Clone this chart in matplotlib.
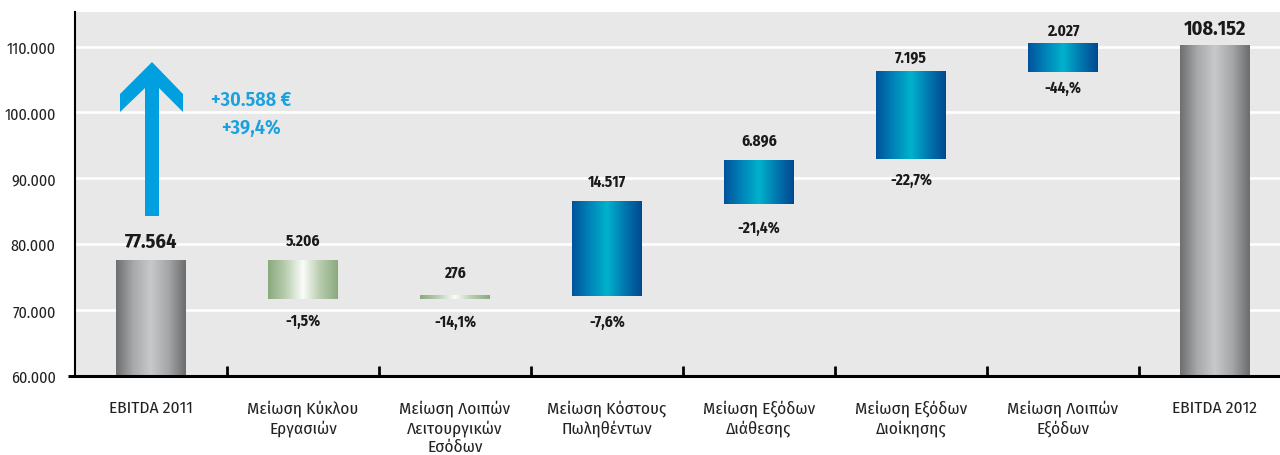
import numpy as np
import matplotlib
matplotlib.use("Agg")
import matplotlib.pyplot as plt
from matplotlib.colors import LinearSegmentedColormap
from matplotlib.patches import Polygon

# ---------------- data ----------------
categories = ['EBITDA 2011', 'Μείωση Κύκλου\nΕργασιών',
              'Μείωση Λοιπών\nΛειτουργικών\nΕσόδων', 'Μείωση Κόστους\nΠωληθέντων',
              'Μείωση Εξόδων\nΔιάθεσης', 'Μείωση Εξόδων\nΔιοίκησης',
              'Μείωση Λοιπών\nΕξόδων', 'EBITDA 2012']
bar_bottom = [60000, 71700, 71700, 72160, 86140, 92980, 106200, 60000]
bar_top = [77580, 77580, 72250, 86550, 92780, 106310, 110560, 110260]
bar_kind = ['total', 'neg', 'neg', 'pos', 'pos', 'pos', 'pos', 'total']
value_labels = ['77.564', '5.206', '276', '14.517', '6.896', '7.195', '2.027', '108.152']
pct_labels = [None, '-1,5%', '-14,1%', '-7,6%', '-21,4%', '-22,7%', '-44,%', None]
y_ticks = [60000, 70000, 80000, 90000, 100000, 110000]
y_ticklabels = ['60.000', '70.000', '80.000', '90.000', '100.000', '110.000']
total_change = '+30.588 €'
total_pct = '+39,4%'

# ---------------- layout / style ----------------
plt.rcParams['font.family'] = ['Fira Sans Condensed', 'DejaVu Sans']

above_off = [19, 20, 23, 20, 20, 14, 13, 17]   # px
below_off = [0, 22, 23, 26, 24, 21, 16, 0]     # px
bar_width = 0.454

cmaps = {
    'total': LinearSegmentedColormap.from_list('g', ['#6d6e70', '#a8a9ab', '#c8c9cb', '#a5a6a8', '#6b6c6e']),
    'neg': LinearSegmentedColormap.from_list('gr', ['#89aa7d', '#b9cdb1', '#fbfcf9', '#b7cbae', '#89aa7d']),
    'pos': LinearSegmentedColormap.from_list('b', ['#00529b', '#0083b8', '#00b2cc', '#0078b0', '#00488f']),
}

W, H = 1280, 456
fig = plt.figure(figsize=(W / 100, H / 100), dpi=100)
ax = fig.add_axes([75 / W, 1 - 376.7 / H, 1 - 75 / W, (376.7 - 13) / H])
ax.set_facecolor('#e8e8e8')

grad = np.linspace(0, 1, 256).reshape(1, -1)
for i, (b, t, k) in enumerate(zip(bar_bottom, bar_top, bar_kind)):
    ax.imshow(grad, cmap=cmaps[k], aspect='auto', interpolation='bilinear',
              extent=[i - bar_width / 2, i + bar_width / 2, b, t], zorder=3)
    big = k == 'total'
    ax.annotate(value_labels[i], (i, t), xytext=(0, above_off[i]), textcoords='offset pixels',
                ha='center', va='center', fontsize=14.5 if big else 11, fontweight='bold',
                color='#1a1a1a', zorder=5)
    if pct_labels[i]:
        ax.annotate(pct_labels[i], (i, b), xytext=(0, -below_off[i]), textcoords='offset pixels',
                    ha='center', va='center', fontsize=11, fontweight='bold',
                    color='#1a1a1a', zorder=5)

ax.set_xlim(-0.5, 7.428)
ax.set_ylim(60000, 115270)

ax.set_yticks(y_ticks)
ax.set_yticklabels(y_ticklabels)
ax.grid(axis='y', color='white', linewidth=1.9, zorder=1)
ax.set_axisbelow(True)
ax.tick_params(axis='y', length=0, pad=14, labelsize=11.5, labelcolor='#222222')

ax.set_xticks(range(len(categories)))
ax.set_xticklabels(categories, linespacing=1.22)
ax.tick_params(axis='x', which='major', length=0, pad=17, labelsize=12.5, labelcolor='#222222')
ax.set_xticks(np.arange(0.5, len(categories) - 1, 1.0), minor=True)
ax.tick_params(axis='x', which='minor', direction='in', length=7, width=2, color='black')

for s in ['top', 'right']:
    ax.spines[s].set_visible(False)
ax.spines['left'].set_linewidth(1.5)
ax.spines['bottom'].set_linewidth(2.2)
ax.spines['left'].set_zorder(6)
ax.spines['bottom'].set_zorder(6)
# small extension of baseline to the left
ax.plot([-7 / 1205, 0], [0, 0], transform=ax.transAxes, color='black', lw=2.2,
        clip_on=False, zorder=6, solid_capstyle='butt')

# big blue arrow (figure pixel coords, top-down)
arrow_px = [(152, 63), (183, 95), (183, 113), (159, 89), (159, 217), (145, 217),
            (145, 89), (120, 113), (120, 95)]
arrow_fig = [(x / W, 1 - y / H) for x, y in arrow_px]
fig.patches.append(Polygon(arrow_fig, closed=True, transform=fig.transFigure,
                           facecolor='#009fe0', edgecolor='none', zorder=4))
fig.text(251 / W, 1 - 100 / H, total_change, ha='center', va='center', fontsize=14.5,
         fontweight='semibold', color='#1ba1dd')
fig.text(251 / W, 1 - 128 / H, total_pct, ha='center', va='center', fontsize=14.5,
         fontweight='semibold', color='#1ba1dd')

fig.savefig('out.png', dpi=100, facecolor='white')
